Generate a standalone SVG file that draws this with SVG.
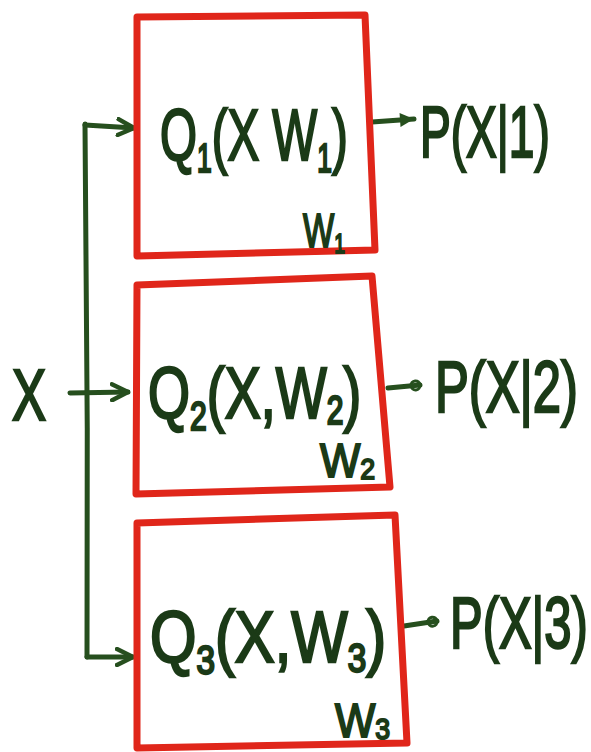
<svg xmlns="http://www.w3.org/2000/svg" width="591" height="752" viewBox="0 0 591 752">
<style>
.box{fill:none;stroke:#e0261a;stroke-width:7;stroke-linejoin:round}
.wire{fill:none;stroke:#264f1e;stroke-width:5;stroke-linecap:round;stroke-linejoin:round}
.t{font-family:"Liberation Sans","DejaVu Sans",sans-serif;fill:#1b3a17;stroke:#1b3a17;stroke-width:2.5;font-size:72px}
.w{font-family:"Liberation Sans","DejaVu Sans",sans-serif;fill:#1b3a17;stroke:#1b3a17;stroke-width:2;font-size:48px}
.sub{font-size:40px}
</style>
<defs>
<marker id="chev" viewBox="0 0 10 10" refX="9" refY="5" markerWidth="4" markerHeight="4" orient="auto" markerUnits="strokeWidth">
<path d="M1,1 L9,5 L1,9" fill="none" stroke="#264f1e" stroke-width="2.2" stroke-linecap="round" stroke-linejoin="round"/>
</marker>
<marker id="tri" viewBox="0 0 10 10" refX="9" refY="5" markerWidth="3.5" markerHeight="3.5" orient="auto" markerUnits="strokeWidth">
<path d="M1,1 L9,5 L1,9 Z" fill="#264f1e"/>
</marker>
<marker id="loop" viewBox="0 0 10 10" refX="9" refY="5" markerWidth="3" markerHeight="3" orient="auto" markerUnits="strokeWidth">
<circle cx="6" cy="5" r="3" fill="none" stroke="#264f1e" stroke-width="2"/>
</marker>
</defs>
<g id="connectors">
<path class="wire" d="M85,124 C87,300 88,480 87,657"/>
<path class="wire" d="M85,125 L134,128" marker-end="url(#chev)"/>
<path class="wire" d="M70,393 L128,392" marker-end="url(#chev)"/>
<path class="wire" d="M87,657 L133,657" marker-end="url(#chev)"/>
<path class="wire" d="M372,122 L414,119" marker-end="url(#tri)"/>
<path class="wire" d="M388,388 L420,385" marker-end="url(#loop)"/>
<path class="wire" d="M404,626 L437,621" marker-end="url(#loop)"/>
</g>
<g id="input-x">
<text class="t" font-size="80" transform="translate(12,420) scale(0.71,1)">X</text>
</g>
<g id="node-q1">
<path class="box" d="M137,17 L365,15 L375,250 L137,256 Z"/>
<text class="t" transform="translate(160,160) scale(0.66,1)">Q<tspan class="sub" dy="12">1</tspan><tspan dy="-12">(X W</tspan><tspan class="sub" dy="12">1</tspan><tspan dy="-12">)</tspan></text>
<text class="w" transform="translate(303,247) scale(0.69,1)">W<tspan font-size="28" dy="6">1</tspan></text>
</g>
<g id="node-q2">
<path class="box" d="M137,285 L372,276 L390,487 L136,494 Z"/>
<text class="t" transform="translate(148,418) scale(0.75,1)">Q<tspan class="sub" dy="12">2</tspan><tspan dy="-12">(X,W</tspan><tspan class="sub" dy="6">2</tspan><tspan dy="-6">)</tspan></text>
<text class="w" transform="translate(320,477) scale(0.89,1)">W<tspan font-size="30" dy="2">2</tspan></text>
</g>
<g id="node-q3">
<path class="box" d="M137,523 L395,515 L407,743 L137,748 Z"/>
<text class="t" transform="translate(150,662) scale(0.83,1)">Q<tspan class="sub" dy="12">3</tspan><tspan dy="-12">(X,W</tspan><tspan class="sub" dy="10">3</tspan><tspan dy="-10">)</tspan></text>
<text class="w" transform="translate(335,737) scale(0.89,1)">W<tspan font-size="30" dy="2">3</tspan></text>
</g>
<g id="out-1"><text class="t" transform="translate(420,157) scale(0.64,1)">P(X|1)</text></g>
<g id="out-2"><text class="t" transform="translate(435,412) scale(0.705,1)">P(X|2)</text></g>
<g id="out-3"><text class="t" transform="translate(450,648) scale(0.68,1)">P(X|3)</text></g>
</svg>
